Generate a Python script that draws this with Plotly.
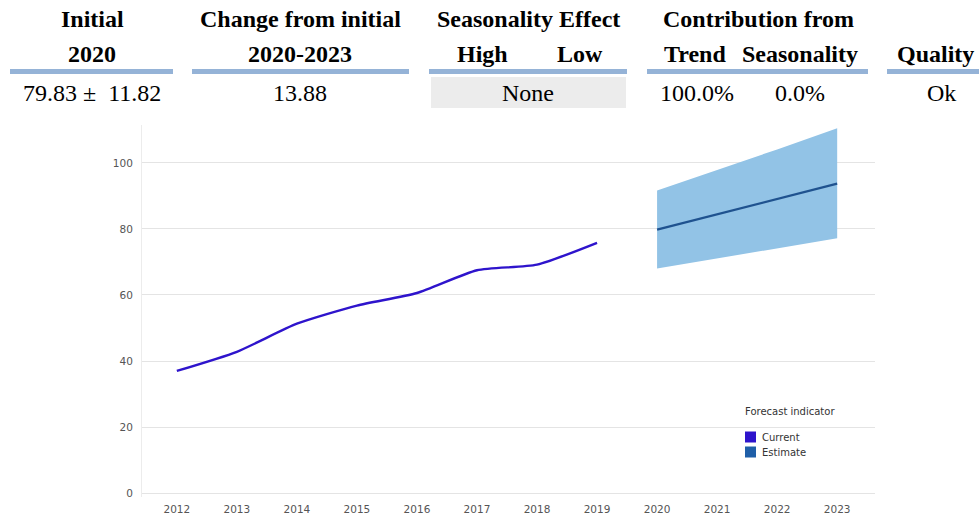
import plotly.graph_objects as go

# ---- data ----
years_current = [2012, 2013, 2014, 2015, 2016, 2017, 2018, 2019]
values_current = [37.0, 42.8, 51.3, 56.8, 60.6, 67.5, 69.2, 75.8]

years_forecast = [2020, 2021, 2022, 2023]
values_forecast = [79.83, 84.46, 89.09, 93.71]
upper_forecast = [91.65, 97.8, 104.1, 110.5]
lower_forecast = [68.01, 71.1, 74.2, 77.2]

x_ticks = list(range(2012, 2024))
y_ticks = [0, 20, 40, 60, 80, 100]

header_row1 = ["Initial", "Change from initial", "Seasonality Effect", "Contribution from", ""]
header_row2 = ["2020", "2020-2023", "High", "Low", "Trend", "Seasonality", "Quality"]
row_values = ["79.83 \u00b1  11.82", "13.88", "None", "100.0%", "0.0%", "Ok"]

legend_title = "Forecast indicator"
series_names = ["Current", "Estimate"]

# ---- layout geometry ----
W, H = 979, 517
L, R, T, B = 142, 104, 125, 20
PW, PH = W - L - R, H - T - B


def px(x):
    return (x - L) / PW


def py(y):
    return 1 - (y - T) / PH


C_CUR = "#2e14cc"
C_EST = "#1f5fa8"
C_EST_LINE = "#1f528f"
C_BAND = "#92c3e6"

fig = go.Figure()

# band
fig.add_trace(go.Scatter(x=years_forecast, y=upper_forecast, mode="lines",
                         line=dict(width=0, color=C_BAND), showlegend=False, hoverinfo="skip"))
fig.add_trace(go.Scatter(x=years_forecast, y=lower_forecast, mode="lines",
                         line=dict(width=0, color=C_BAND), fill="tonexty",
                         fillcolor=C_BAND, showlegend=False, hoverinfo="skip"))
fig.add_trace(go.Scatter(x=years_forecast, y=values_forecast, mode="lines", name=series_names[1],
                         line=dict(width=2.3, color=C_EST_LINE), showlegend=False))
fig.add_trace(go.Scatter(x=years_current, y=values_current, mode="lines", name=series_names[0],
                         line=dict(width=2.4, color=C_CUR, shape="spline", smoothing=0.6),
                         showlegend=False))

fig.update_layout(
    width=W, height=H,
    margin=dict(l=L, r=R, t=T, b=B),
    paper_bgcolor="white", plot_bgcolor="white",
    font=dict(family="DejaVu Sans", size=10, color="#555555"),
    xaxis=dict(range=[2011.42, 2023.63], tickmode="array", tickvals=x_ticks,
               ticktext=[str(v) for v in x_ticks], showgrid=False, zeroline=False,
               showline=False, tickfont=dict(size=10.5, color="#555555"), ticklen=0,
               ticklabelstandoff=4, automargin=False),
    yaxis=dict(range=[-1.2, 111.5], tickmode="array", tickvals=y_ticks,
               showgrid=True, gridcolor="#e4e4e4", gridwidth=1, zeroline=False,
               showline=True, linecolor="#ececec", linewidth=1,
               tickfont=dict(size=10.5, color="#555555"), ticklen=0, ticks="",
               ticklabelstandoff=6, automargin=False),
    showlegend=False,
)

# ---- table at top ----
SERIF = "Liberation Serif"
HFONT = dict(family=SERIF, size=24, color="black")
VFONT = dict(family=SERIF, size=24, color="black")

ann = []
row1_x = [92, 300, 528, 758, 935]
for txt, x in zip(header_row1, row1_x):
    if txt:
        ann.append(dict(x=px(x), y=py(19), text="<b>%s</b>" % txt, font=HFONT))
row2_x = [92, 300, 482, 580, 695, 800, 935]
for txt, x in zip(header_row2, row2_x):
    ann.append(dict(x=px(x), y=py(54), text="<b>%s</b>" % txt, font=HFONT))
val_x = [92, 300, 528, 697, 800, 941]
for txt, x in zip(row_values, val_x):
    ann.append(dict(x=px(x), y=py(93), text=txt, font=VFONT))

for a in ann:
    a.update(xref="paper", yref="paper", showarrow=False, xanchor="center", yanchor="middle")

# ---- legend (drawn manually to match the compact swatch layout) ----
LFONT = dict(family="DejaVu Sans", size=10, color="#333333")
ann.append(dict(x=px(743), y=py(411), text=legend_title, font=LFONT, xref="paper", yref="paper",
                showarrow=False, xanchor="left", yanchor="middle"))
legend_y = [437, 452]
for name, yy in zip(series_names, legend_y):
    ann.append(dict(x=px(760), y=py(yy), text=name, font=LFONT, xref="paper", yref="paper",
                    showarrow=False, xanchor="left", yanchor="middle"))
fig.update_layout(annotations=ann)

shapes = []
for x0, x1 in [(10, 173), (192, 409), (429, 627), (647, 868), (887, 985)]:
    shapes.append(dict(type="line", xref="paper", yref="paper", x0=px(x0), x1=px(x1),
                       y0=py(71.5), y1=py(71.5), line=dict(color="#95b3d7", width=5)))
shapes.append(dict(type="rect", xref="paper", yref="paper", x0=px(431), x1=px(626),
                   y0=py(108), y1=py(77), fillcolor="#ececec", line=dict(width=0), layer="below"))
for col, yy in zip([C_CUR, C_EST], legend_y):
    shapes.append(dict(type="rect", xref="paper", yref="paper", x0=px(745), x1=px(756),
                       y0=py(yy + 5.5), y1=py(yy - 5.5), fillcolor=col, line=dict(width=0)))
fig.update_layout(shapes=shapes)

fig.write_html("out.html", config={"displayModeBar": False},
               post_script="document.body.style.margin='0';document.body.style.overflow='hidden';")
